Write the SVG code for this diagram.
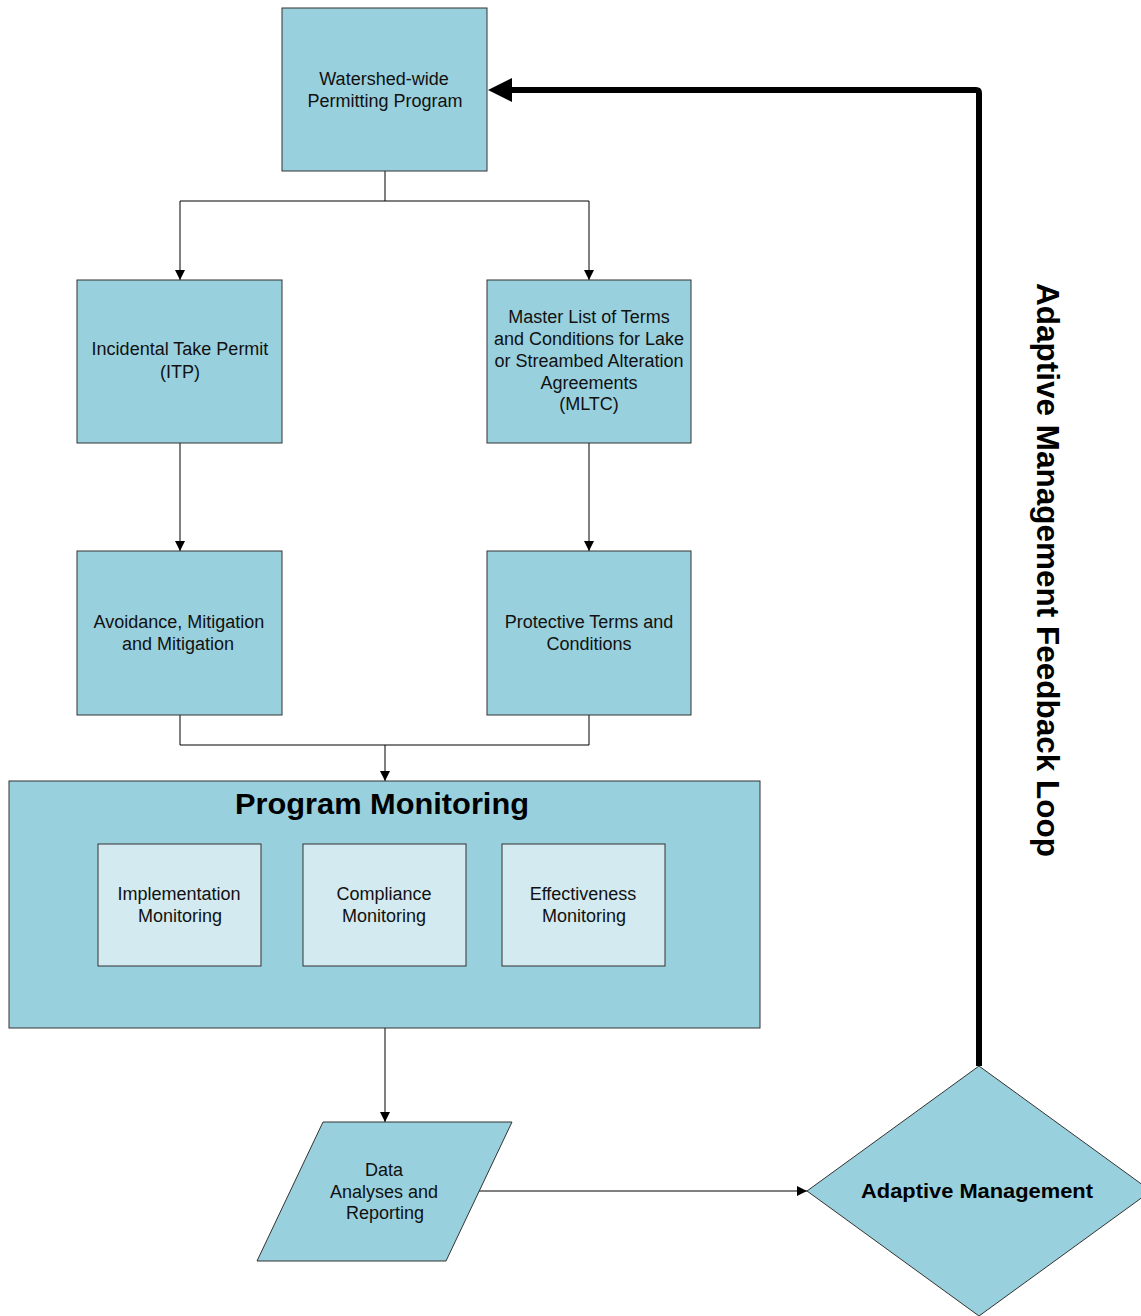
<svg xmlns="http://www.w3.org/2000/svg" width="1141" height="1316" viewBox="0 0 1141 1316">
<style>
.box{fill:#99d0dd;stroke:#333;stroke-width:1}
.inner{fill:#d2eaf0;stroke:#333;stroke-width:1}
.t{font-family:"Liberation Sans",Arial,sans-serif;font-size:18px;fill:#111;text-anchor:middle}
.b{font-family:"Liberation Sans",Arial,sans-serif;font-weight:bold;fill:#000;text-anchor:middle}
.c{fill:none;stroke:#000;stroke-width:1}
</style>
<defs>
<marker id="ah" viewBox="0 0 10 10" refX="10" refY="5" markerWidth="10" markerHeight="10" markerUnits="userSpaceOnUse" orient="auto">
<path d="M0,0 L10,5 L0,10 Z" fill="#000"/>
</marker>
</defs>
<rect width="1141" height="1316" fill="#fff"/>
<g id="connectors">
<path class="c" d="M385,171 V201 H180 V280" marker-end="url(#ah)"/>
<path class="c" d="M385,201 H589 V280" marker-end="url(#ah)"/>
<path class="c" d="M180,443 V551" marker-end="url(#ah)"/>
<path class="c" d="M589,443 V551" marker-end="url(#ah)"/>
<path class="c" d="M180,715 V745 H589 V715"/>
<path class="c" d="M385,745 V781" marker-end="url(#ah)"/>
<path class="c" d="M385,1028 V1122" marker-end="url(#ah)"/>
<path class="c" d="M478,1191 H807" marker-end="url(#ah)"/>
<path d="M979,1066 V93 Q979,90 976,90 H508" fill="none" stroke="#000" stroke-width="6"/>
<path d="M488,90 L512,78 L512,102 Z" fill="#000"/>
</g>
<g id="watershed">
<rect class="box" x="282" y="8" width="205" height="163"/>
<text class="t" x="384" y="85">Watershed-wide</text>
<text class="t" x="385" y="107">Permitting Program</text>
</g>
<g id="itp">
<rect class="box" x="77" y="280" width="205" height="163"/>
<text class="t" x="180" y="355">Incidental Take Permit</text>
<text class="t" x="180" y="378">(ITP)</text>
</g>
<g id="mltc">
<rect class="box" x="487" y="280" width="204" height="163"/>
<text class="t" x="589" y="323">Master List of Terms</text>
<text class="t" x="589" y="345">and Conditions for Lake</text>
<text class="t" x="589" y="367">or Streambed Alteration</text>
<text class="t" x="589" y="389">Agreements</text>
<text class="t" x="589" y="410">(MLTC)</text>
</g>
<g id="avoidance">
<rect class="box" x="77" y="551" width="205" height="164"/>
<text class="t" x="179" y="628">Avoidance, Mitigation</text>
<text class="t" x="178" y="650">and Mitigation</text>
</g>
<g id="protective">
<rect class="box" x="487" y="551" width="204" height="164"/>
<text class="t" x="589" y="628">Protective Terms and</text>
<text class="t" x="589" y="650">Conditions</text>
</g>
<g id="program-monitoring">
<rect class="box" x="9" y="781" width="751" height="247"/>
<text class="b" x="382" y="814" font-size="30" textLength="294" lengthAdjust="spacingAndGlyphs">Program Monitoring</text>
</g>
<g id="implementation">
<rect class="inner" x="98" y="844" width="163" height="122"/>
<text class="t" x="179" y="900">Implementation</text>
<text class="t" x="180" y="922">Monitoring</text>
</g>
<g id="compliance">
<rect class="inner" x="303" y="844" width="163" height="122"/>
<text class="t" x="384" y="900">Compliance</text>
<text class="t" x="384" y="922">Monitoring</text>
</g>
<g id="effectiveness">
<rect class="inner" x="502" y="844" width="163" height="122"/>
<text class="t" x="583" y="900">Effectiveness</text>
<text class="t" x="584" y="922">Monitoring</text>
</g>
<g id="data-analyses">
<polygon class="box" points="323,1122 512,1122 446,1261 257,1261"/>
<text class="t" x="384" y="1176">Data</text>
<text class="t" x="384" y="1198">Analyses and</text>
<text class="t" x="385" y="1219">Reporting</text>
</g>
<g id="adaptive-management">
<polygon class="box" points="979,1066 1151,1191 979,1316 807,1191"/>
<text class="b" x="977" y="1198" font-size="21" textLength="232" lengthAdjust="spacingAndGlyphs">Adaptive Management</text>
</g>
<g id="feedback-label">
<text class="b" transform="translate(1037,283) rotate(90)" x="0" y="0" font-size="31" style="text-anchor:start" textLength="574" lengthAdjust="spacingAndGlyphs">Adaptive Management Feedback Loop</text>
</g>
</svg>
